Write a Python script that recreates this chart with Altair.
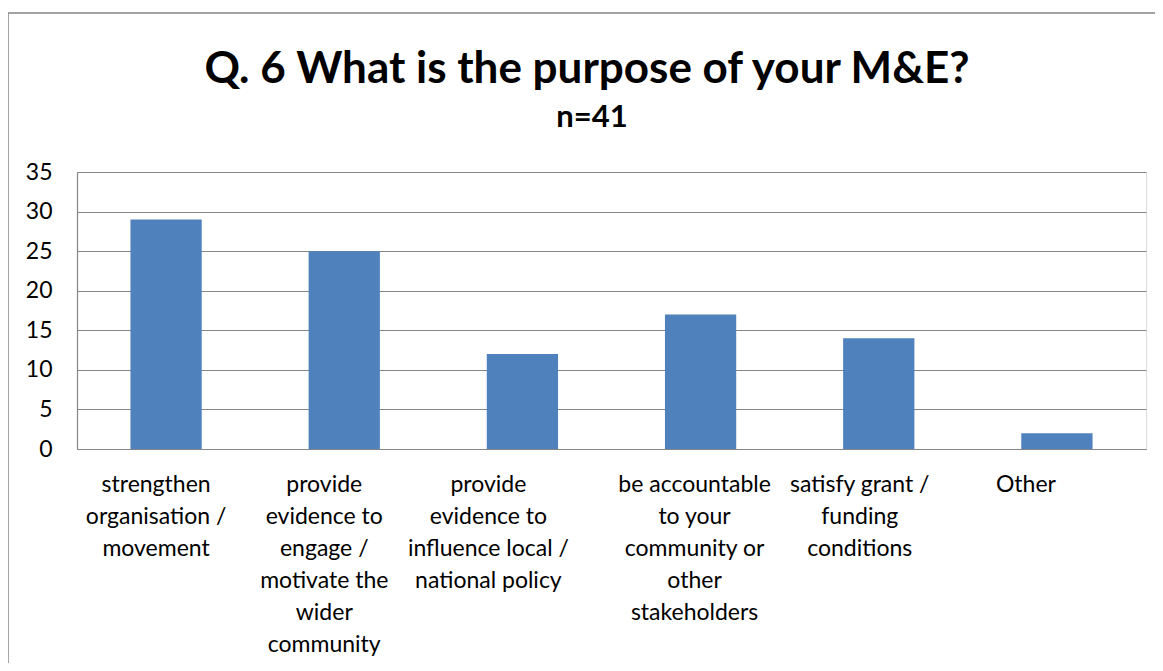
import altair as alt
import pandas as pd

# ---- data ----
categories = [
    "strengthen|organisation /|movement",
    "provide|evidence to|engage /|motivate the|wider|community",
    "provide|evidence to|influence local /|national policy",
    "be accountable|to your|community or|other|stakeholders",
    "satisfy grant /|funding|conditions",
    "Other",
]
counts = [29, 25, 12, 17, 14, 2]
y_ticks = [0, 5, 10, 15, 20, 25, 30, 35]
label_shifts = [-10, -20, -34, -6, -19, -31]

title_text = "Q. 6 What is the purpose of your M&E?"
subtitle_text = "n=41"

df = pd.DataFrame({"purpose": categories, "count": counts})

FONT = "Lato"
GRAY = "#868686"
BLUE = "#4F81BD"

offset_conditions = [
    {"test": f"datum.value == '{c}'", "value": s}
    for c, s in zip(categories, label_shifts)
]

bars = alt.Chart(df).mark_bar(color=BLUE).encode(
    x=alt.X(
        "purpose:N",
        sort=None,
        title=None,
        scale=alt.Scale(paddingInner=0.6, paddingOuter=0.3),
        axis=alt.Axis(
            labelExpr="split(datum.label, '|')",
            labelAngle=0,
            labelFont=FONT,
            labelFontSize=23,
            labelLineHeight=32,
            labelPadding=24,
            labelColor="#000000",
            labelLimit=0,
            labelOverlap=False,
            ticks=False,
            tickSize=0,
            domainColor=GRAY,
            domainWidth=1.2,
            labelOffset={"condition": offset_conditions, "value": 0},
        ),
    ),
    y=alt.Y(
        "count:Q",
        title=None,
        scale=alt.Scale(domain=[0, 35], nice=False),
        axis=alt.Axis(
            values=y_ticks,
            labelFont=FONT,
            labelFontSize=23,
            labelColor="#000000",
            labelPadding=25,
            ticks=False,
            tickSize=0,
            domainColor=GRAY,
            domainWidth=1.2,
            gridColor=GRAY,
            gridWidth=1.2,
        ),
    ),
)

one = pd.DataFrame({"k": [0]})

frame = alt.Chart(one).mark_rect(
    fillOpacity=0, stroke=GRAY, strokeWidth=1.5
).encode(
    x=alt.value(-69), x2=alt.value(1100), y=alt.value(-159), y2=alt.value(520)
)

title_mark = alt.Chart(one).mark_text(
    text=title_text, font=FONT, fontSize=44, fontWeight="bold",
    color="#000000", align="center", baseline="alphabetic",
).encode(x=alt.value(510), y=alt.value(-89))

subtitle_mark = alt.Chart(one).mark_text(
    text=subtitle_text, font=FONT, fontSize=31, fontWeight="bold",
    color="#000000", align="center", baseline="alphabetic",
).encode(x=alt.value(515), y=alt.value(-45))

chart = alt.layer(frame, bars, title_mark, subtitle_mark).properties(
    width=1069,
    height=277,
    autosize=alt.AutoSizeParams(type="none"),
    padding={"left": 69, "top": 164, "right": 9, "bottom": 214},
).configure_view(strokeWidth=0).configure(background="white")

chart.save("out.html", embed_options={"renderer": "svg", "actions": False})
